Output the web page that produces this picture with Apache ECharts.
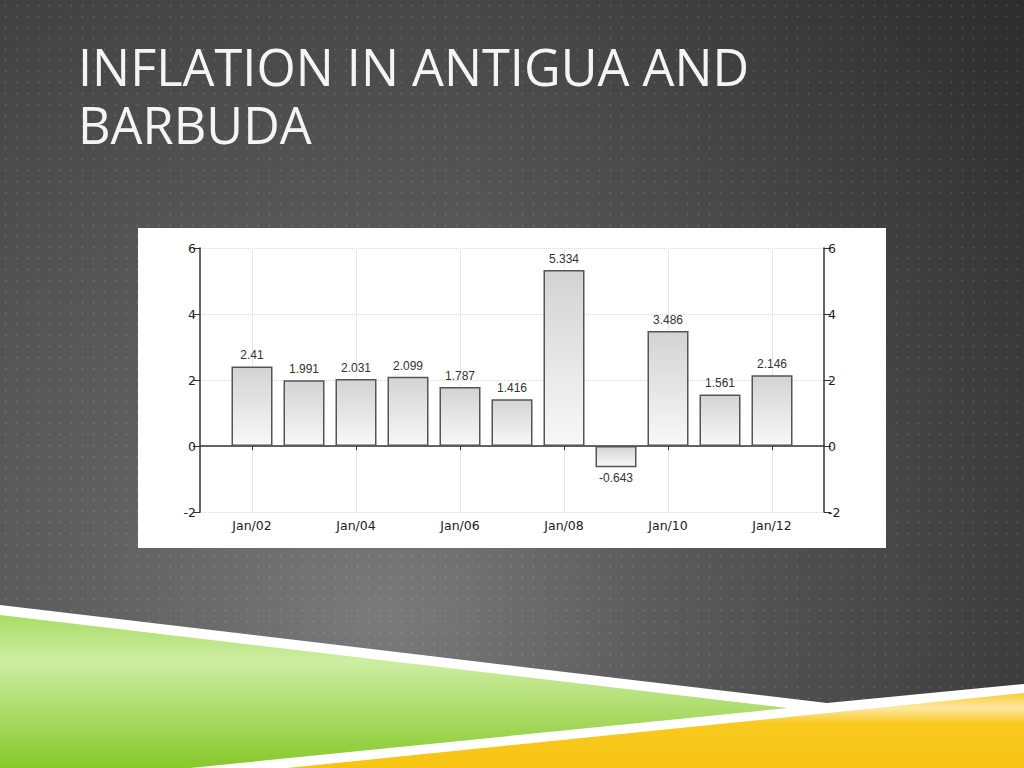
<!DOCTYPE html>
<html>
<head>
<meta charset="utf-8">
<script src="https://cdn.jsdelivr.net/npm/echarts@6/dist/echarts.min.js"></script>
<style>
  html, body { margin: 0; padding: 0; }
  body {
    width: 1024px; height: 768px; overflow: hidden;
    background-color: #3a3a3a;
    background-image:
      radial-gradient(circle, rgba(255,255,255,0.12) 0.8px, transparent 1.3px),
      linear-gradient(to right, rgba(0,0,0,0) 45%, rgba(0,0,0,0.18) 100%),
      radial-gradient(ellipse 1000px 900px at 380px 620px, #7a7a7a 0%, #616161 28%, #505050 55%, #3c3c3c 85%, #333 100%);
    background-size: 11px 11px, 100% 100%, 100% 100%;
  }
  #chart { position: absolute; left: 0; top: 0; width: 1024px; height: 768px; }
</style>
</head>
<body>
<div id="chart"></div>
<script>
// 数据
const years = ['Jan/02', 'Jan/03', 'Jan/04', 'Jan/05', 'Jan/06', 'Jan/07', 'Jan/08', 'Jan/09', 'Jan/10', 'Jan/11', 'Jan/12'];
const inflation = [2.41, 1.991, 2.031, 2.099, 1.787, 1.416, 5.334, -0.643, 3.486, 1.561, 2.146];
const yMin = -2, yMax = 6, yStep = 2;
const titleLines = ['INFLATION IN ANTIGUA AND', 'BARBUDA'];

document.addEventListener('DOMContentLoaded', function() {
  const chart = echarts.init(document.getElementById('chart'), null, { renderer: 'svg' });

  // 两端各留一个空位，让柱子落在刻度上
  const cats = ['Jan/01'].concat(years, ['Jan/13']);
  const barData = [null].concat(inflation.map(v => v < 0
    ? { value: v, label: { position: 'bottom' } }
    : v), [null]);
  const evenYear = (i) => i % 2 === 1;

  const axisFont = { fontFamily: 'DejaVu Sans', fontSize: 12.5, color: '#222' };
  const titleStyle = { fill: '#f4f4f4', fontFamily: 'Open Sans', fontSize: 50.5, lineHeight: 50 };

  const option = {
    animation: false,
    backgroundColor: 'transparent',
    graphic: [
      // 图表白色底板
      { type: 'rect', z: -1, shape: { x: 138, y: 228, width: 748, height: 320 }, style: { fill: '#ffffff' } },
      // 标题（两行分开放）
      { type: 'text', left: 78, top: 41, style: Object.assign({ text: titleLines[0] }, titleStyle) },
      { type: 'text', left: 78, top: 99, style: Object.assign({ text: titleLines[1] }, titleStyle) },
      // 底部装饰
      { type: 'polygon', z: -1, shape: { points: [[0, 605], [827, 703], [1024, 684], [1024, 768], [0, 768]] }, style: { fill: '#ffffff' } },
      { type: 'polygon', z: -1, shape: { points: [[0, 615], [788, 708], [190, 768], [0, 768]] },
        style: { fill: new echarts.graphic.LinearGradient(0, 0, 0, 1, [
          { offset: 0, color: '#a9dc66' }, { offset: 0.3, color: '#cdeea2' },
          { offset: 0.55, color: '#b4e078' }, { offset: 1, color: '#86c92a' }]) } },
      { type: 'polygon', z: -1, shape: { points: [[287, 768], [1024, 693], [1024, 768]] },
        style: { fill: new echarts.graphic.LinearGradient(0, 0, 0, 1, [
          { offset: 0, color: '#f9cd30' }, { offset: 0.2, color: '#fde8a4' },
          { offset: 0.4, color: '#f9c920' }, { offset: 1, color: '#f7c412' }]) } }
    ],
    grid: { left: 200, right: 200, top: 248, bottom: 256 },
    xAxis: {
      type: 'category',
      data: cats,
      boundaryGap: false,
      axisLine: { lineStyle: { color: '#333', width: 1.5 } },
      axisTick: { interval: evenYear, length: 4, lineStyle: { color: '#333' } },
      axisLabel: Object.assign({ interval: evenYear, margin: 7 }, axisFont),
      splitLine: { show: true, interval: evenYear, lineStyle: { color: '#e8e8e8', width: 1 } }
    },
    yAxis: [{
      type: 'value', min: yMin, max: yMax, interval: yStep, position: 'left',
      axisLine: { show: true, lineStyle: { color: '#333', width: 1.5 } },
      axisTick: { show: true, length: 7, lineStyle: { color: '#333' } },
      axisLabel: Object.assign({ margin: 4 }, axisFont),
      splitLine: { show: true, lineStyle: { color: '#d8d8d8', type: 'dotted', width: 1 } }
    }, {
      type: 'value', min: yMin, max: yMax, interval: yStep, position: 'right',
      axisLine: { show: true, lineStyle: { color: '#333', width: 1.5 } },
      axisTick: { show: true, length: 7, lineStyle: { color: '#333' } },
      axisLabel: Object.assign({ margin: 4 }, axisFont),
      splitLine: { show: false }
    }],
    series: [{
      type: 'bar',
      data: barData,
      barWidth: 41,
      itemStyle: {
        color: new echarts.graphic.LinearGradient(0, 0, 0, 1, [
          { offset: 0, color: '#d3d3d3' }, { offset: 1, color: '#f8f8f8' }]),
        borderColor: '#555',
        borderWidth: 1.5
      },
      label: {
        show: true, position: 'top', distance: 5,
        fontFamily: 'Liberation Sans', fontSize: 12, color: '#333'
      }
    }]
  };
  chart.setOption(option);
});
</script>
</body>
</html>
